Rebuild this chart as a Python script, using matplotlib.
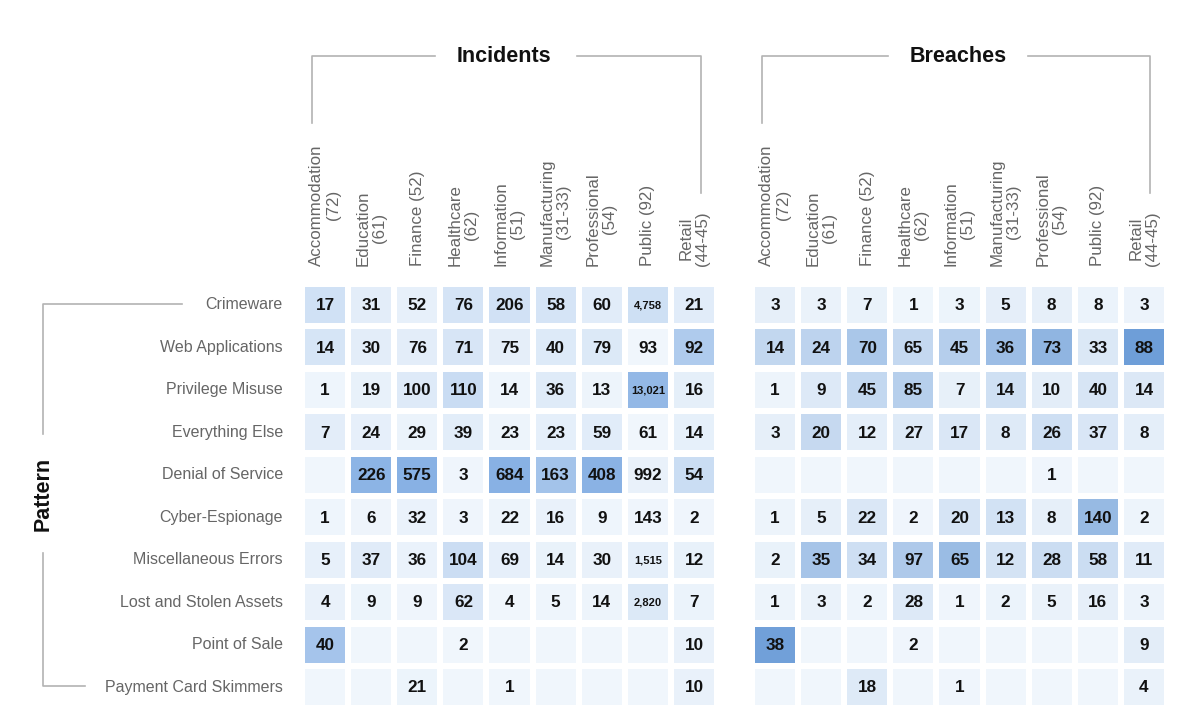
import numpy as np
import matplotlib.pyplot as plt
from matplotlib.colors import LinearSegmentedColormap, Normalize
from matplotlib.patches import Rectangle

plt.rcParams['font.family'] = ['Liberation Sans', 'DejaVu Sans']

industries = ['Accommodation\n(72)', 'Education\n(61)', 'Finance (52)', 'Healthcare\n(62)',
              'Information\n(51)', 'Manufacturing\n(31-33)', 'Professional\n(54)', 'Public (92)',
              'Retail\n(44-45)']
patterns = ['Crimeware', 'Web Applications', 'Privilege Misuse', 'Everything Else',
            'Denial of Service', 'Cyber-Espionage', 'Miscellaneous Errors',
            'Lost and Stolen Assets', 'Point of Sale', 'Payment Card Skimmers']

N = np.nan
incidents = [
    [17, 31, 52, 76, 206, 58, 60, 4758, 21],
    [14, 30, 76, 71, 75, 40, 79, 93, 92],
    [1, 19, 100, 110, 14, 36, 13, 13021, 16],
    [7, 24, 29, 39, 23, 23, 59, 61, 14],
    [N, 226, 575, 3, 684, 163, 408, 992, 54],
    [1, 6, 32, 3, 22, 16, 9, 143, 2],
    [5, 37, 36, 104, 69, 14, 30, 1515, 12],
    [4, 9, 9, 62, 4, 5, 14, 2820, 7],
    [40, N, N, 2, N, N, N, N, 10],
    [N, N, 21, N, 1, N, N, N, 10],
]
breaches = [
    [3, 3, 7, 1, 3, 5, 8, 8, 3],
    [14, 24, 70, 65, 45, 36, 73, 33, 88],
    [1, 9, 45, 85, 7, 14, 10, 40, 14],
    [3, 20, 12, 27, 17, 8, 26, 37, 8],
    [N, N, N, N, N, N, 1, N, N],
    [1, 5, 22, 2, 20, 13, 8, 140, 2],
    [2, 35, 34, 97, 65, 12, 28, 58, 11],
    [1, 3, 2, 28, 1, 2, 5, 16, 3],
    [38, N, N, 2, N, N, N, N, 9],
    [N, N, 18, N, 1, N, N, N, 4],
]

cmap_inc = LinearSegmentedColormap.from_list('inc', ['#f0f6fc', '#88b1e4'])
cmap_br = LinearSegmentedColormap.from_list('br', ['#f0f6fc', '#6e9ed8'])
norm = Normalize(0, 0.62)

fig = plt.figure(figsize=(12, 7.21), dpi=100)

# overlay for brackets and titles, in pixel coords
ov = fig.add_axes([0, 0, 1, 1])
ov.set_xlim(0, 1200)
ov.set_ylim(721, 0)
ov.axis('off')
lc = '#b3b3b3'
for x0, x1, gap0, gap1, title, tx in [(312, 701, 435, 577, 'Incidents', 504),
                                       (762, 1150, 888, 1028, 'Breaches', 958)]:
    ov.plot([x0, x0, gap0], [123, 56, 56], color=lc, lw=1.2)
    ov.plot([gap1, x1, x1], [56, 56, 193], color=lc, lw=1.2)
    ov.text(tx, 56, title, ha='center', va='center', fontsize=15.5, fontweight='bold', color='#111111')
ov.plot([182, 43, 43], [304, 304, 434], color=lc, lw=1.2)
ov.plot([43, 43, 85], [553, 686, 686], color=lc, lw=1.2)
ov.text(43, 494, 'Pattern', rotation=90, ha='center', va='center', fontsize=15.5,
        fontweight='bold', color='#111111')


def draw(ax, data, cmap, row_labels):
    arr = np.array(data, dtype=float)
    share = np.nan_to_num(arr) / np.nansum(arr, axis=0)
    for i in range(arr.shape[0]):
        for j in range(arr.shape[1]):
            ax.add_patch(Rectangle((j - 0.435, i - 0.425), 0.87, 0.85, lw=0,
                                   facecolor=cmap(norm(share[i, j]))))
            v = arr[i, j]
            if np.isnan(v):
                continue
            big = v >= 1000
            ax.text(j, i + 0.02, f'{int(v):,}', ha='center', va='center',
                    fontsize=8 if big else 12.3, fontweight='bold', color='#111111')
    ax.set_xlim(-0.5, 8.5)
    ax.set_ylim(9.5, -0.5)
    ax.axis('off')
    for j, lab in enumerate(industries):
        ax.text(j, 1.042, lab, rotation=90, ha='center', va='bottom', fontsize=12.2,
                color='#666666', transform=ax.get_xaxis_transform(), linespacing=1.1)
    if row_labels:
        for i, lab in enumerate(patterns):
            ax.text(-0.046, i, lab, ha='right', va='center', fontsize=11.5,
                    color='#666666', transform=ax.get_yaxis_transform())


ax1 = fig.add_axes([302 / 1200, 12.75 / 721, 415 / 1200, 424.5 / 721])
ax2 = fig.add_axes([752 / 1200, 12.75 / 721, 415 / 1200, 424.5 / 721])
draw(ax1, incidents, cmap_inc, True)
draw(ax2, breaches, cmap_br, False)

fig.savefig('out.png', dpi=100, facecolor='white')
